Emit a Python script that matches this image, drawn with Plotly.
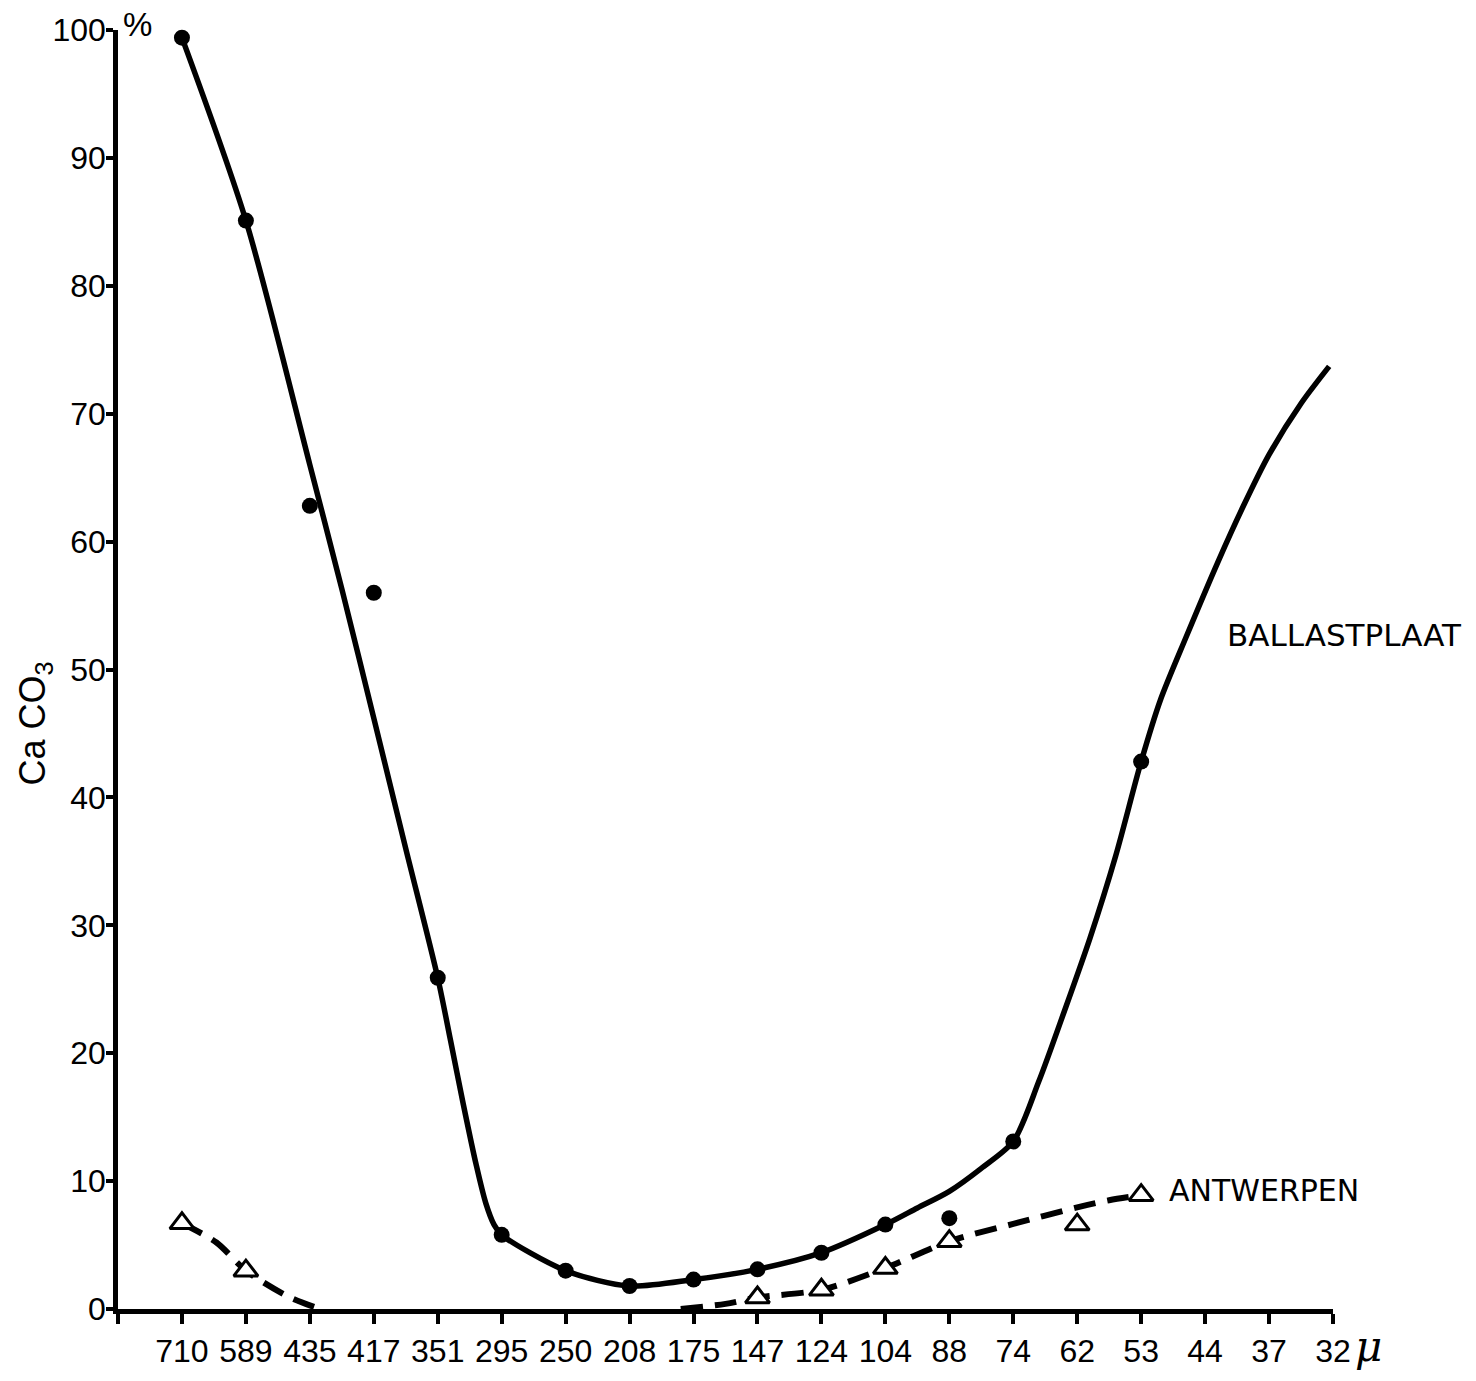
import plotly.graph_objects as go

# ---- data ----
categories = ["710", "589", "435", "417", "351", "295", "250", "208", "175", "147",
              "124", "104", "88", "74", "62", "53", "44", "37", "32"]
positions = list(range(len(categories)))

# measured points (filled circles), None = no point
ballast_points = [99.4, 85.1, 62.8, 56.0, 25.9, 5.8, 3.0, 1.8, 2.3, 3.1,
                  4.4, 6.6, 7.1, 13.1, None, 42.8, None, None, None]
# measured points (open triangles)
antwerp_points = [6.7, 3.0, None, None, None, None, None, None, None, 0.9,
                  1.5, 3.2, 5.3, None, 6.6, 8.9, None, None, None]

# hand-drawn smooth curve through the Ballastplaat data (category-index units)
ballast_curve_pos = [0, 1, 2, 2.5, 3.0, 3.5, 4.0, 4.2, 4.4, 4.6, 4.75, 4.88,
                     5.0, 6.0, 7.0, 8.0, 9.0, 10.0, 11.0, 11.5, 12.0, 12.5,
                     13.0, 13.4, 13.8, 14.2, 14.6, 15.0, 15.3, 15.7, 16.2,
                     16.6, 17.0, 17.5, 17.94]
ballast_curve_pct = [99.4, 85.1, 66.0, 56.3, 46.2, 36.0, 25.9, 21.0, 16.0, 11.3, 8.3, 6.6,
                     5.8, 3.0, 1.8, 2.3, 3.1, 4.4, 6.6, 7.9, 9.2, 11.0,
                     13.1, 17.8, 23.3, 29.0, 35.4, 42.8, 47.6, 52.5, 58.4,
                     62.8, 66.8, 70.8, 73.7]

# dashed curve through the Antwerpen data (two pieces, gap = None)
antwerp_curve_pos = [0, 0.54, 1, 1.69, 2.16, None, 7.8, 8.5, 9, 10, 11, 12, 13, 14, 14.5, 15]
antwerp_curve_pct = [6.7, 5.2, 3.0, 0.9, 0.0, None, 0.0, 0.4, 0.9, 1.5, 3.2, 5.3, 6.65, 7.95, 8.5, 8.9]

y_ticks = list(range(0, 101, 10))

fig = go.Figure()

fig.add_trace(go.Scatter(
    x=ballast_curve_pos, y=ballast_curve_pct, mode="lines",
    line=dict(color="black", width=5.5, shape="spline", smoothing=0.8),
    hoverinfo="skip", showlegend=False))

fig.add_trace(go.Scatter(
    x=antwerp_curve_pos, y=antwerp_curve_pct, mode="lines", connectgaps=False,
    line=dict(color="black", width=6, dash="22px,12px", shape="spline", smoothing=0.8),
    hoverinfo="skip", showlegend=False))

fig.add_trace(go.Scatter(
    x=positions, y=ballast_points, mode="markers", name="BALLASTPLAAT",
    marker=dict(symbol="circle", size=16, color="black"),
    cliponaxis=False, showlegend=False))

fig.add_trace(go.Scatter(
    x=positions, y=antwerp_points, mode="markers", name="ANTWERPEN",
    marker=dict(symbol="triangle-up", size=21, color="white",
                line=dict(color="black", width=3)),
    cliponaxis=False, showlegend=False))

fig.update_layout(
    width=1476, height=1381,
    margin=dict(l=118, r=143, t=30, b=67),
    paper_bgcolor="white", plot_bgcolor="white",
    font=dict(family="Liberation Sans, Arial, sans-serif", color="black", size=30),
    xaxis=dict(
        range=[-1, 18], tickmode="array",
        tickvals=positions, ticktext=categories,
        showline=True, linecolor="black", linewidth=4.5,
        ticks="outside", ticklen=10, tickwidth=3.5, tickcolor="black",
        minor=dict(tickvals=[-1], ticks="outside", ticklen=10, tickwidth=3.5,
                   tickcolor="black", showgrid=False),
        showgrid=False, zeroline=False,
        tickfont=dict(size=32, family="Liberation Sans, Arial, sans-serif"),
    ),
    yaxis=dict(
        range=[0, 100], tickmode="array", tickvals=y_ticks,
        ticktext=[str(v) for v in y_ticks],
        showline=True, linecolor="black", linewidth=4.5,
        ticks="outside", ticklen=7, tickwidth=3.5, tickcolor="black",
        ticklabelstandoff=-6,
        showgrid=False, zeroline=False,
        tickfont=dict(size=32, family="Liberation Sans, Arial, sans-serif"),
    ),
    annotations=[
        dict(text="%", x=0.0163, y=1.004, xref="paper", yref="paper", showarrow=False,
             font=dict(size=33), xanchor="center", yanchor="middle"),
        dict(text="BALLASTPLAAT", x=16.31, y=52.7, xref="x", yref="y", showarrow=False,
             font=dict(size=31, family="DejaVu Sans"), xanchor="left", yanchor="middle"),
        dict(text="ANTWERPEN", x=15.40, y=9.3, xref="x", yref="y", showarrow=False,
             font=dict(size=30, family="DejaVu Sans"), xanchor="left", yanchor="middle"),
        dict(text="<i>μ</i>", x=1.029, y=-0.029, xref="paper", yref="paper", showarrow=False,
             font=dict(size=42, family="DejaVu Serif"), xanchor="center", yanchor="middle"),
        dict(text="Ca CO<sub>3</sub>", x=-0.068, y=45.8, xref="paper", yref="y",
             showarrow=False, textangle=-90, font=dict(size=36),
             xanchor="center", yanchor="middle"),
    ],
)

# remove the default 8px page margin so the figure fills the window exactly
fig.write_html(
    "out.html",
    config={"displayModeBar": False},
    post_script="document.body.style.margin='0';"
                "document.body.style.overflow='hidden';"
                "document.documentElement.style.overflow='hidden';",
)
